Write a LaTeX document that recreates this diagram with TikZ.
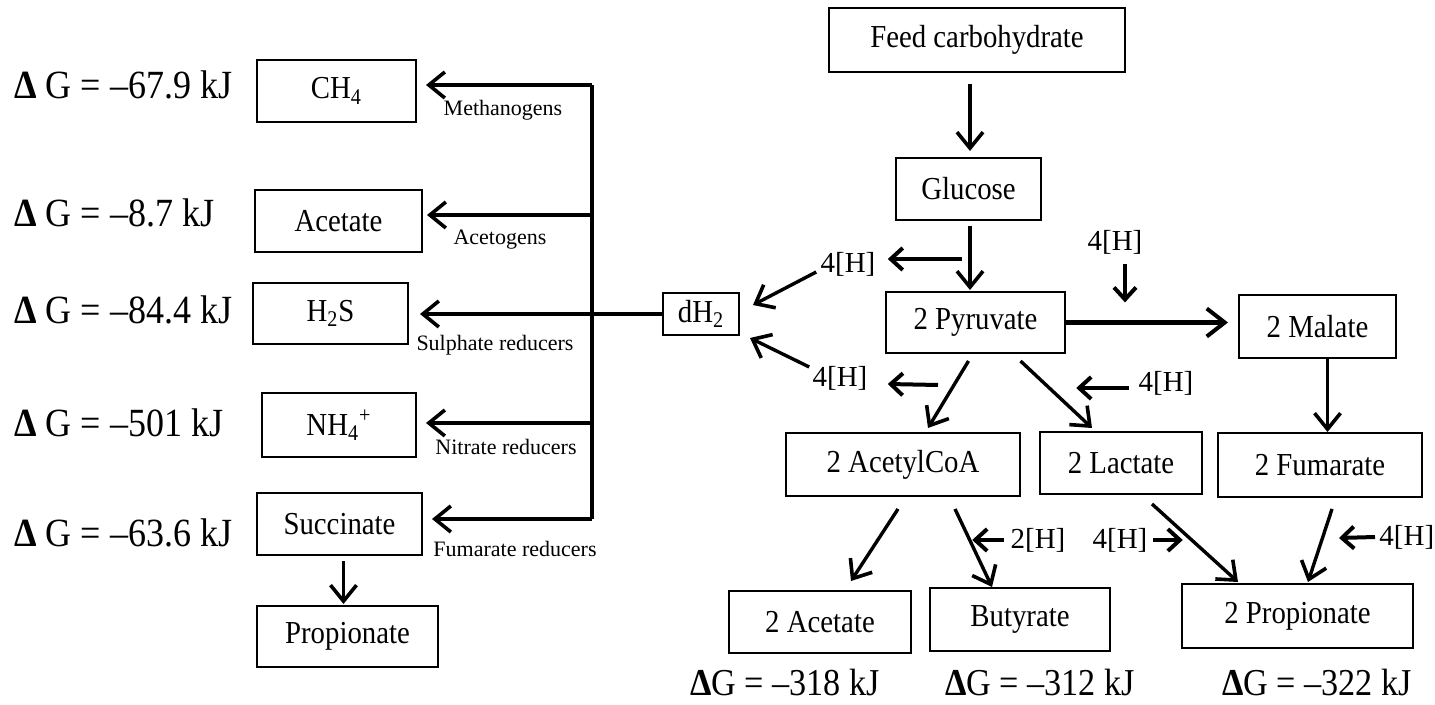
\documentclass[tikz,border=0pt]{standalone}
\usepackage{fontspec}
\setmainfont{Liberation Serif}[FakeStretch=0.9]
\newfontfamily\plainserif{Liberation Serif}
\usetikzlibrary{arrows.meta,calc}
\begin{document}
\begin{tikzpicture}[x=0.5pt,y=-0.5pt,
  box/.style={draw, line width=1pt, inner sep=0pt, font=\fontsize{16}{19}\selectfont},
  arr/.style={line width=1.7pt, -{Straight Barb[length=8pt,width=13pt,line width=1.8pt]}},
  harr/.style={line width=2pt, -{Straight Barb[length=6pt,width=11pt,line width=2pt]}},
  bigarr/.style={line width=2.1pt, -{Straight Barb[length=9pt,width=14pt,line width=2pt]}},
  hlab/.style={inner sep=0pt, font=\plainserif\fontsize{14.5}{17}\selectfont},
  dg/.style={inner sep=0pt, font=\fontsize{20}{23}\selectfont},
  dgb/.style={inner sep=0pt, font=\fontsize{19}{22}\selectfont},
  small/.style={inner sep=0pt, font=\plainserif\fontsize{11}{13}\selectfont},
  line/.style={line width=1.7pt}]
\useasboundingbox (0,0) rectangle (1435,705);
% boxes right
\node[box, minimum width=148pt, minimum height=32pt] (feed) at (977,40) {Feed carbohydrate};
\node[box, minimum width=72.5pt, minimum height=31pt] (glucose) at (968.5,189) {Glucose};
\node[box, minimum width=89.5pt, minimum height=30.5pt] (pyruvate) at (975.5,322.5) {2 Pyruvate};
\node[box, minimum width=78.5pt, minimum height=31.5pt] (malate) at (1317.5,326.5) {2 Malate};
\node[box, minimum width=38pt, minimum height=21pt] (dH2) at (701,314) {dH\textsubscript{2}};
\node[box, minimum width=117pt, minimum height=31.5pt] (acetylcoa) at (903,464.5) {2 AcetylCoA};
\node[box, minimum width=81pt, minimum height=31pt] (lactate) at (1121,463) {2 Lactate};
\node[box, minimum width=102pt, minimum height=32pt] (fumarate) at (1320,465) {2 Fumarate};
\node[box, minimum width=91pt, minimum height=31pt] (acetate2) at (820,622) {2 Acetate};
\node[box, minimum width=90pt, minimum height=31.5pt] (butyrate) at (1020,619.5) {Butyrate};
\node[box, minimum width=115.5pt, minimum height=32pt] (propionate2) at (1297.5,616) {2 Propionate};
% boxes left
\node[box, minimum width=79.5pt, minimum height=31pt] (ch4) at (336.5,91) {CH\textsubscript{4}};
\node[box, minimum width=83.5pt, minimum height=31pt] (acetate) at (338.5,221) {Acetate};
\node[box, minimum width=77.5pt, minimum height=30.5pt] (h2s) at (330.5,313.5) {H\textsubscript{2}S};
\node[box, minimum width=77pt, minimum height=32pt] (nh4) at (339,425) {NH\textsubscript{4}\textsuperscript{+}};
\node[box, minimum width=82.5pt, minimum height=31pt] (succinate) at (339.5,524) {Succinate};
\node[box, minimum width=90.5pt, minimum height=30.5pt] (propionate) at (347.5,636.5) {Propionate};
% H labels
\node[hlab] (h1) at (848,264) {4[H]};
\node[hlab] (h2) at (840,378) {4[H]};
\node[hlab] (h3) at (1115,242) {4[H]};
\node[hlab] (h4) at (1166,383) {4[H]};
\node[hlab] (h5) at (1038,540) {2[H]};
\node[hlab] (h6) at (1120,540) {4[H]};
\node[hlab, anchor=west] (h7) at (1379,537) {4[H]};
% Delta G labels
\node[dg, anchor=west] (g1) at (14,85) {{\bfseries Δ} G = –67.9 kJ};
\node[dg, anchor=west] (g2) at (14,213) {{\bfseries Δ} G = –8.7 kJ};
\node[dg, anchor=west] (g3) at (14,310) {{\bfseries Δ} G = –84.4 kJ};
\node[dg, anchor=west] (g4) at (14,423) {{\bfseries Δ} G = –501 kJ};
\node[dg, anchor=west] (g5) at (14,533) {{\bfseries Δ} G = –63.6 kJ};
\node[dgb] (g6) at (785,683) {{\bfseries Δ}G = –318 kJ};
\node[dgb] (g7) at (1040,683) {{\bfseries Δ}G = –312 kJ};
\node[dgb] (g8) at (1317,683) {{\bfseries Δ}G = –322 kJ};
% small labels
\node[small] (l1) at (503,110) {Methanogens};
\node[small] (l2) at (500,240) {Acetogens};
\node[small] (l3) at (495,345) {Sulphate reducers};
\node[small] (l4) at (506,447) {Nitrate reducers};
\node[small] (l5) at (515,549) {Fumarate reducers};
% junctions
\coordinate (jA) at (592,85);
\coordinate (jB) at (592,215);
\coordinate (jC) at (592,423);
\coordinate (jD) at (592,519);
\coordinate (gp) at (962,259);
\coordinate (pa) at (938,385);
\coordinate (pl) at (1129,388);
\coordinate (ab) at (1004,540);
\coordinate (lp) at (1153,540);
\coordinate (fp) at (1375,537);
% right connectors
\draw[arr] ($(feed.south -| glucose.north)+(1.5,11)$) -- ($(glucose.north)+(1.5,-6)$);
\draw[arr] ($(glucose.south)+(1.5,5)$) -- ($(glucose.south |- pyruvate.north)+(1.5,-1)$);
\draw[harr] (gp) -- ($(h1.east)+(12,-5)$);
\draw[arr] ($(h1.west)+(-4,8)$) -- ($(dH2.east)+(13,-9)$);
\draw[harr] (pa) -- ($(h2.east)+(20,6)$);
\draw[arr] ($(h2.west)+(-3,-11)$) -- ($(dH2.east)+(10,24)$);
\draw[harr] ($(h3.south)+(10,10)$) -- ($(h3.south)+(10,48)$);
\draw[bigarr] (pyruvate.east) -- ($(pyruvate.east -| malate.west)+(-10,0)$);
\draw[arr] ($(malate.south)+(10,0)$) -- ($(malate.south |- fumarate.north)+(10,0)$);
\draw[arr] ($(pyruvate.south)+(-7,7)$) -- ($(acetylcoa.north)+(25,-4)$);
\draw[arr] ($(pyruvate.south)+(45,7)$) -- ($(lactate.north)+(-29,-3)$);
\draw[harr] (pl) -- ($(h4.west)+(-62,5)$);
\draw[arr] ($(acetylcoa.south)+(-5,12)$) -- ($(acetate2.north)+(31,-9)$);
\draw[arr] ($(acetylcoa.south)+(52,12)$) -- ($(butyrate.north)+(-28,0)$);
\draw[harr] (ab) -- ($(h5.west)+(-38,0)$);
\draw[harr] (lp) -- ($(h6.east)+(35,0)$);
\draw[arr] ($(lactate.south)+(31,9)$) -- ($(propionate2.north)+(-59.5,-1)$);
\draw[arr] ($(fumarate.south)+(12,11)$) -- ($(propionate2.north)+(10.5,-1)$);
\draw[harr] (fp) -- ($(fumarate.south east)+(-84,40)$);
% left connectors
\draw[arr] (dH2.west) -- ($(dH2.west -| h2s.east)+(11,0)$);
\draw[line] (jA) -- (jD);
\draw[arr] (jA) -- ($(jA -| ch4.east)+(9,0)$);
\draw[arr] (jB) -- ($(jB -| acetate.east)+(4,0)$);
\draw[arr] (jC) -- ($(jC -| nh4.east)+(9,0)$);
\draw[arr] (jD) -- ($(jD -| succinate.east)+(9,0)$);
\draw[arr] ($(succinate.south)+(4,5)$) -- ($(succinate.south |- propionate.north)+(4,-1)$);
\end{tikzpicture}
\end{document}
